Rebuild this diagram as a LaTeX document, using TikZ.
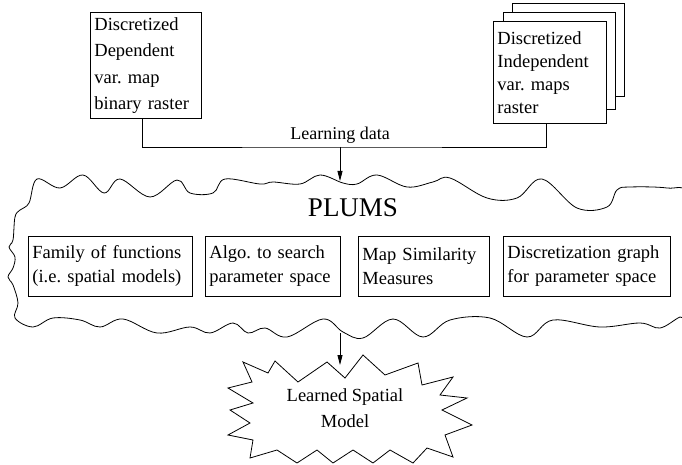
\documentclass[tikz,border=0pt]{standalone}
\usepackage{fontspec}
\setmainfont{Liberation Serif}
\usetikzlibrary{arrows.meta}
\frenchspacing

\begin{document}
\begin{tikzpicture}[x=1pt,y=-1pt,
    mapbox/.style={draw, fill=white, line width=0.8pt, anchor=north west,
        align=left, inner sep=4pt, font=\fontsize{18.5}{23}\selectfont},
    toolbox/.style={draw, line width=0.8pt, anchor=north west, align=left,
        inner sep=4pt, minimum height=60pt, font=\fontsize{18.5}{24}\selectfont},
    link/.style={line width=0.8pt},
    feed/.style={line width=0.8pt, -{Triangle[length=10pt,width=5pt]}}]
  \useasboundingbox (0,0) rectangle (682,465);
  \clip (0,0) rectangle (682,465);

  % input maps
  \node[mapbox, text width=103pt, minimum height=106pt,
        font=\fontsize{18.5}{26.5}\selectfont] (dep) at (90,12)
        {Discretized\\Dependent\\var. map\\binary raster};
  \node[mapbox, minimum width=112pt, minimum height=93pt] (indepC) at (512,3) {};
  \node[mapbox, minimum width=112pt, minimum height=97pt] (indepB) at (503,12) {};
  \node[mapbox, text width=105pt, minimum height=102pt] (indep) at (493,21)
        {Discretized\\Independent\\var. maps\\raster};

  \coordinate (join) at (340,147);
  \coordinate (cloudtop) at (340,181);
  \draw[link] ([xshift=-4pt]dep.south) |- (join) -| ([xshift=-4pt]indep.south);
  \node[above, font=\fontsize{18}{22}\selectfont] (learn) at (join) {Learning data};
  \draw[feed] (join) -- (cloudtop);

  % PLUMS cloud
  \draw[link] plot[smooth cycle, tension=0.6] coordinates {
      (37,179) (60,188) (83,175) (104,193) (120,179) (150,197) (177,180)
      (190,193) (213,193) (225,179) (260,184) (273,182) (300,184) (320,175)
      (343,183) (357,184) (377,175) (407,187) (433,182) (450,178) (487,198)
      (517,198) (542,179) (577,208) (607,207) (617,190) (630,187) (667,188)
      (688,195) (693,260) (688,318) (680,317) (660,328) (640,323) (600,327)
      (553,320) (527,337) (490,318) (450,320) (423,337) (393,319) (363,338)
      (343,332) (323,319) (287,337) (265,328) (248,333) (233,323) (210,333)
      (190,327) (157,333) (123,319) (100,327) (80,320) (53,318) (33,327)
      (15,318) (18,303) (13,285) (8,277) (13,268) (15,257) (9,247) (13,240)
      (15,217) (20,210) (29,203)};
  \node[font=\fontsize{27}{32}\selectfont] (plums) at (353,208) {PLUMS};

  \node[toolbox, text width=156pt] (family) at (28,236)
        {Family of functions\\(i.e. spatial models)};
  \node[toolbox, text width=127pt] (search) at (205,236)
        {Algo. to search\\parameter space};
  \node[toolbox, text width=123pt] (similar) at (358,236)
        {Map Similarity\\Measures};
  \node[toolbox, text width=159pt] (graph) at (503,236)
        {Discretization graph\\for parameter space};

  % learned model
  \draw[link, fill=white] (243,362) -- (268,373) -- (275,361) -- (298,382)
      -- (327,362) -- (345,378) -- (363,355) -- (385,375) -- (418,363)
      -- (422,385) -- (453,377) -- (440,395) -- (467,398) -- (442,410)
      -- (472,425) -- (445,435) -- (453,457) -- (427,448) -- (413,463)
      -- (390,450) -- (373,463) -- (353,450) -- (333,463) -- (317,450)
      -- (297,463) -- (277,450) -- (250,458) -- (253,440) -- (228,435)
      -- (250,423) -- (230,410) -- (253,403) -- (228,388) -- (252,382) -- cycle;
  \node[align=center, font=\fontsize{18.5}{26}\selectfont] (model) at (345,408)
        {Learned Spatial\\Model};

  \coordinate (cloudbot) at (340,333);
  \coordinate (startop) at (340,365);
  \draw[feed] (cloudbot) -- (startop);
\end{tikzpicture}
\end{document}
